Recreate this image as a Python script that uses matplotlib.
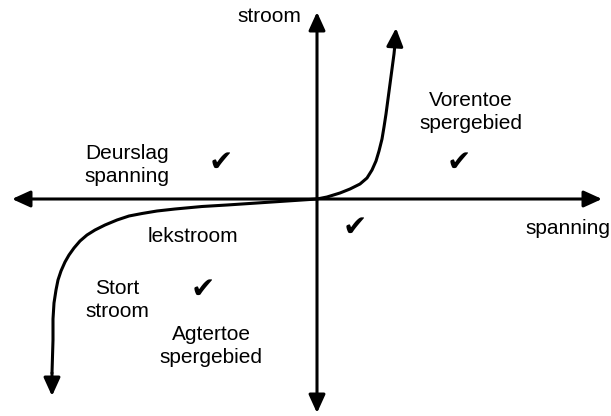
import numpy as np
from matplotlib import pyplot as plt

# forward bias branch (spanning, stroom)
fwd_v = [0, 10, 23, 33, 43, 50, 55, 59, 62, 65, 67, 69, 71, 73, 75, 77, 78]
fwd_i = [0, 2, 6, 10, 15, 21, 29, 38, 48, 60, 72, 85, 100, 115, 130, 145, 155]
fwd_tip = (79, 171)

# reverse bias branch: leakage then breakdown
rev_v = [0, -30, -60, -90, -115, -142, -160, -175, -188, -200, -212, -222, -230, -237,
         -243, -248, -252, -256, -259, -261, -263, -264, -264, -265]
rev_i = [0, -2, -4, -6, -7.5, -10, -12, -14.5, -17, -21, -26, -31, -36, -42,
         -49, -56, -63, -72, -81, -91, -104, -120, -141, -174]
rev_tip = (-265, -197)

labels = ["stroom", "spanning", "Vorentoe\nspergebied", "Deurslag\nspanning",
          "lekstroom", "Stort\nstroom", "Agtertoe\nspergebied"]
label_pos = [(-16, 183), (251, -29), (154, 87), (-190, 34),
             (-124, -38), (-200, -101), (-106, -147)]
label_ha = ["right", "center", "center", "center", "center", "center", "center"]

ticks_pos = [(-96, 36), (142, 36), (38, -29), (-114, -91)]


def arrow(ax, start, end, lw):
    ax.annotate("", xy=end, xytext=start,
                arrowprops=dict(arrowstyle="-|>,head_length=1.1,head_width=0.5",
                                lw=lw, color="black", shrinkA=0, shrinkB=0))


fig = plt.figure(figsize=(6.11, 4.16), dpi=100)
ax = fig.add_axes([0, 0, 1, 1])
ax.set_xlim(-317, 294)
ax.set_ylim(-217, 199)
ax.axis("off")

# axes of the characteristic
arrow(ax, (0, 0), (285, 0), 2.2)
arrow(ax, (0, 0), (-305, 0), 2.2)
arrow(ax, (0, 0), (0, 187), 2.2)
arrow(ax, (0, 0), (0, -214), 2.2)

ax.plot(fwd_v, fwd_i, color="black", lw=2.2, solid_capstyle="round", solid_joinstyle="round")
arrow(ax, (fwd_v[-1], fwd_i[-1]), fwd_tip, 2.2)
ax.plot(rev_v, rev_i, color="black", lw=2.2, solid_capstyle="round", solid_joinstyle="round")
arrow(ax, (rev_v[-1], rev_i[-1]), rev_tip, 2.2)

for txt, (x, y), ha in zip(labels, label_pos, label_ha):
    ax.text(x, y, txt, ha=ha, va="center", fontsize=15, family="Liberation Sans",
            linespacing=1.3)

for x, y in ticks_pos:
    ax.text(x, y, "\u2714", ha="center", va="center", fontsize=21, family="DejaVu Sans")

plt.savefig("out.png", dpi=100)
